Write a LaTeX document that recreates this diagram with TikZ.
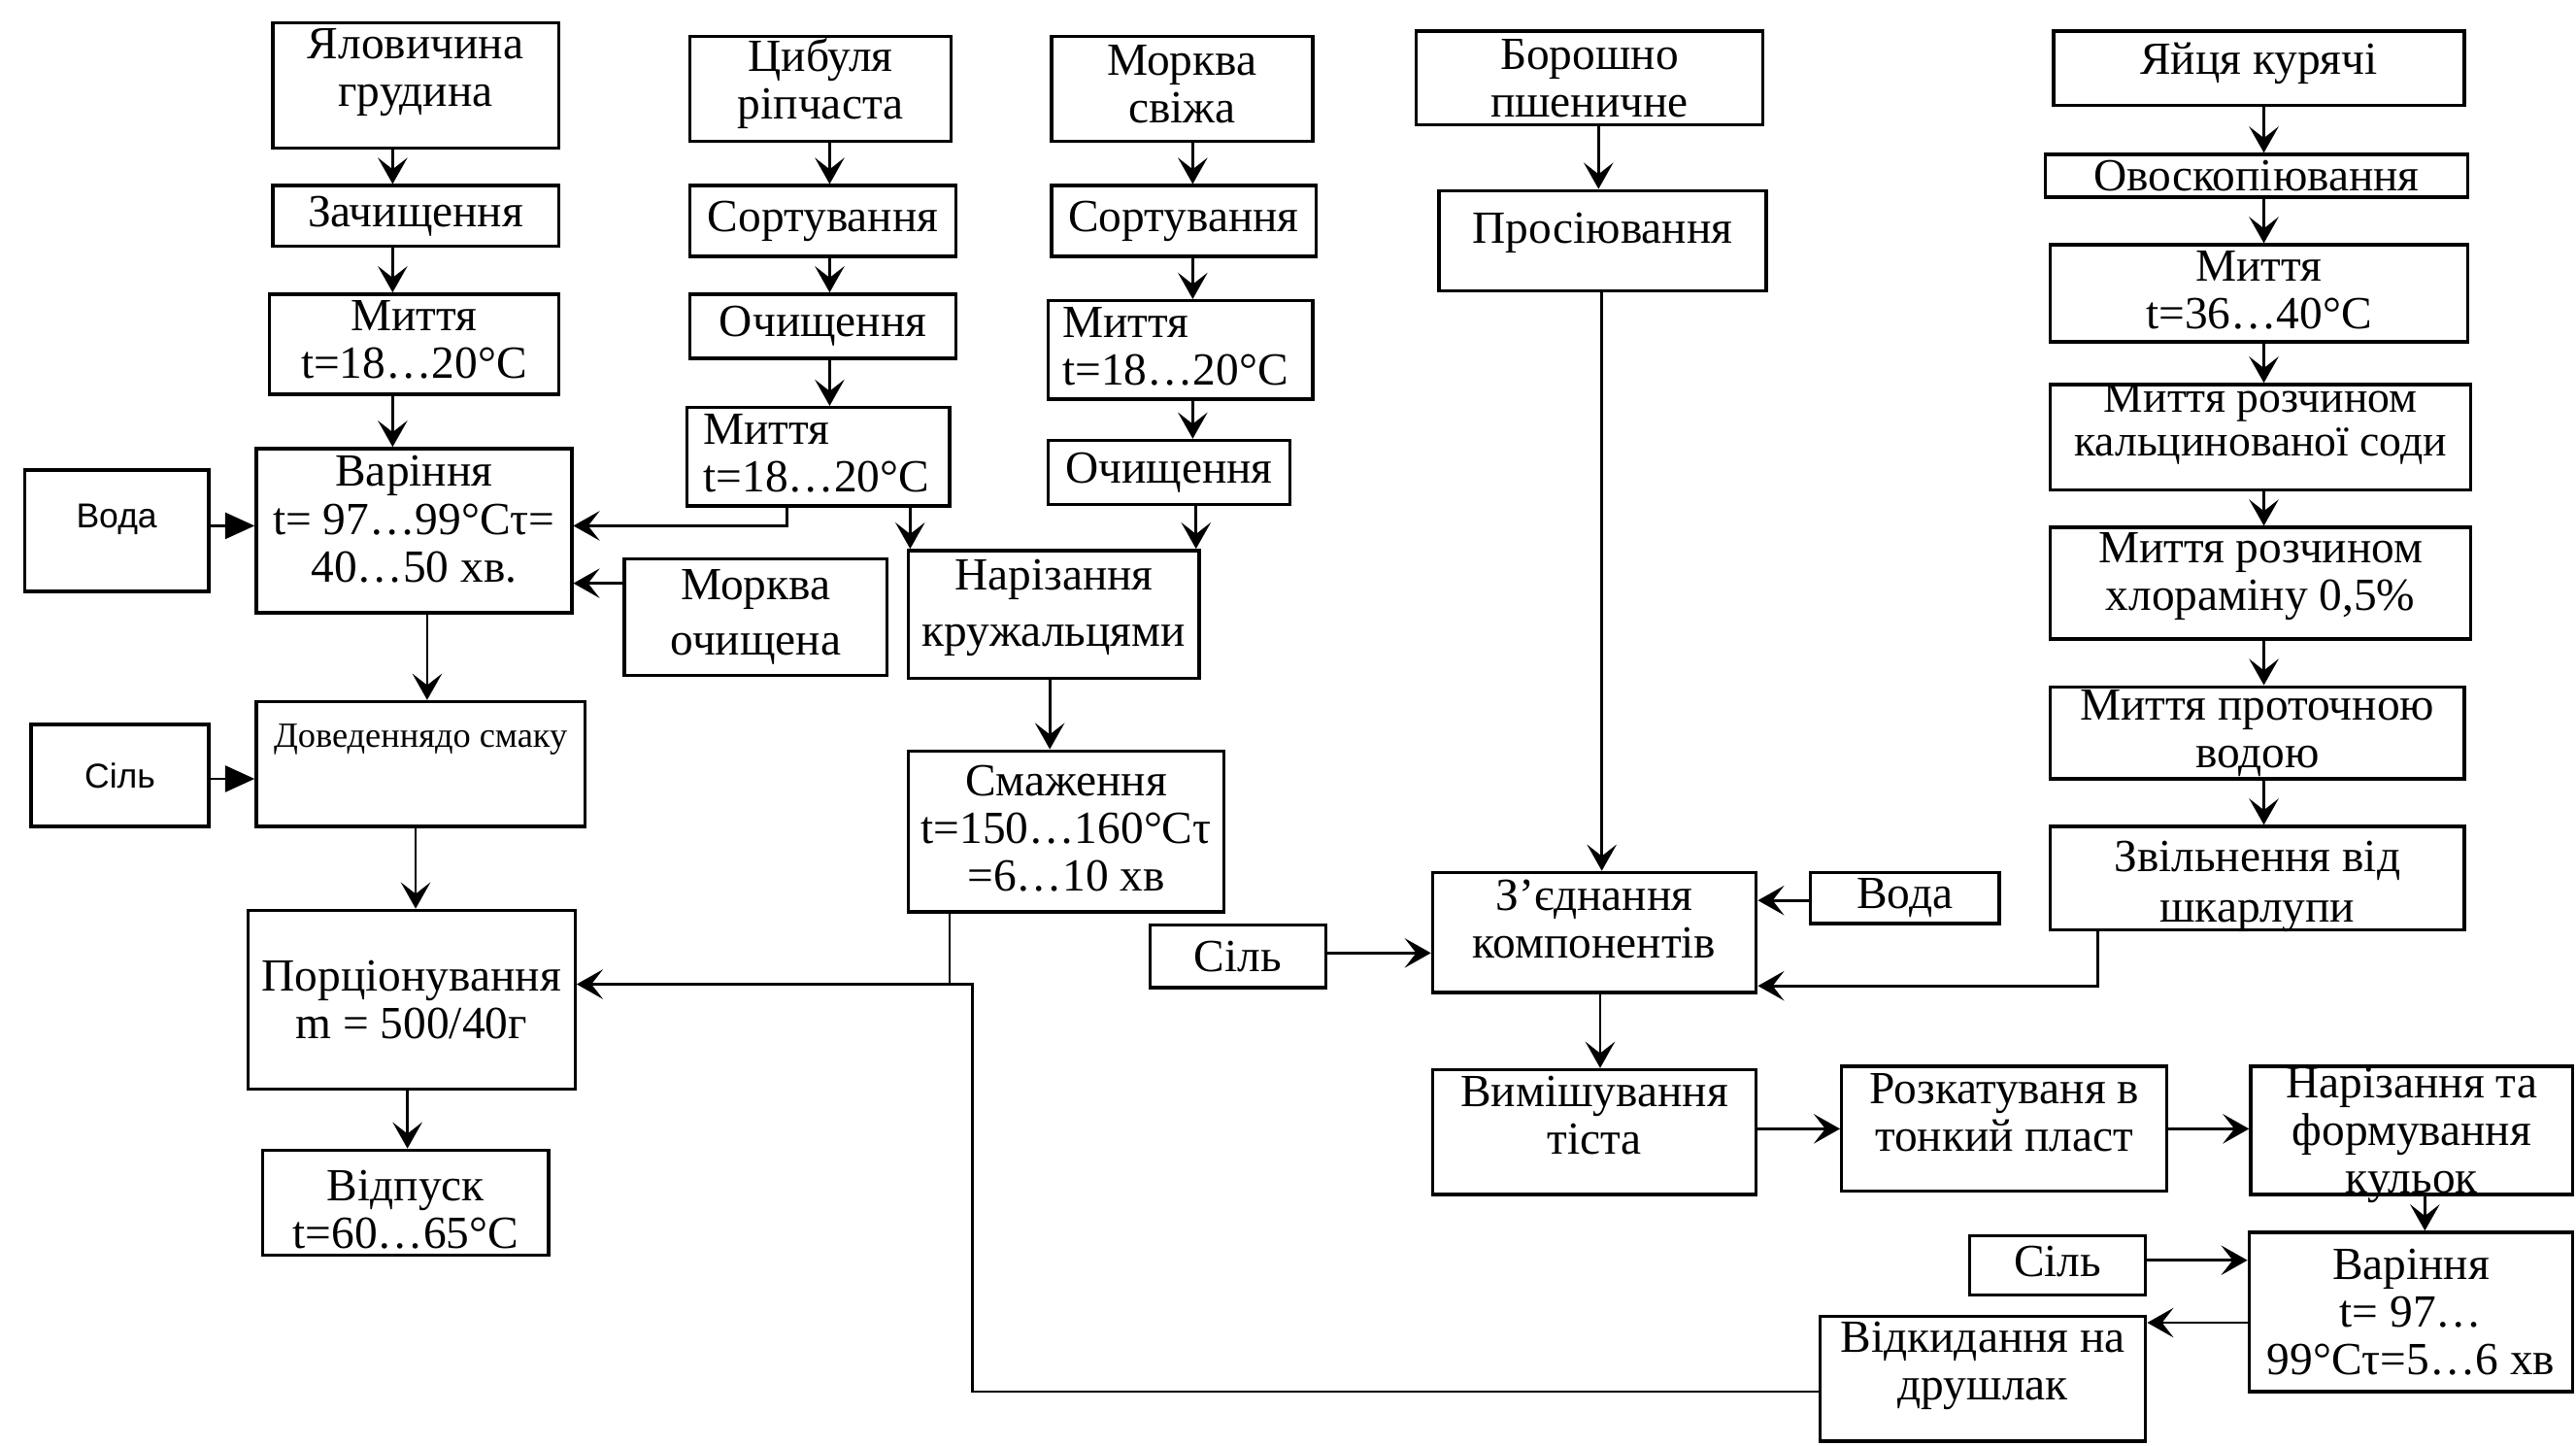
\documentclass[tikz,border=0pt]{standalone}
\usepackage{fontspec}
\setmainfont{Liberation Serif}
\newfontfamily\sansf{Liberation Sans}
\usetikzlibrary{arrows.meta,calc}
\tikzset{
  box/.style={draw, line width=2pt, inner sep=0pt, rectangle},
  txt/.style={align=center, inner sep=0pt, font=\fontsize{28}{29}\selectfont},
  sml/.style={font=\sansf\fontsize{21}{24}\selectfont},
  arr/.style={line width=1.6pt, -{Stealth[length=16pt,width=18pt,inset=7pt]}},
  tri/.style={line width=1.6pt, -{Triangle[length=18pt,width=16pt]}},
  ln/.style={line width=1.6pt},
}
\newcommand\bx[7]{%
  \node[box, minimum width={(#4)-(#2)}, minimum height={(#5)-(#3)}] (#1) at ({((#2)+(#4))/2},{((#3)+(#5))/2}) {};
  \node[txt, #6] (#1t) at (#1.center) {#7};
}
\begin{document}
\begin{tikzpicture}[x=1pt,y=-1pt]
\fill[white] (0,0) rectangle (1568,879.5);
\useasboundingbox (0,0) rectangle (1568,879.5);
% column 1
\bx{yal}{166}{14}{340}{90}{yshift=8pt}{Яловичина\\грудина}
\bx{zach}{166}{113}{340}{150}{}{Зачищення}
\bx{myt1}{164}{179}{340}{240}{yshift=3pt}{Миття\\t=18…20°C}
\bx{var1}{156}{273}{348}{373}{yshift=7pt}{Варіння\\t= 97…99°Cτ=\\40…50 хв.}
\bx{voda1}{15}{286}{127}{360}{sml,yshift=7pt}{Вода}
\bx{morkoch}{380}{340}{540}{411}{font=\fontsize{28}{34}\selectfont}{Морква\\очищена}
\bx{dov}{156}{427}{356}{503}{font=\fontsize{21.5}{24}\selectfont,yshift=15pt}{Доведеннядо смаку}
\bx{sil1}{19}{441}{127}{503}{sml}{Сіль}
\bx{porc}{151}{554}{350}{663}{}{Порціонування\\m = 500/40г}
\bx{vidp}{160}{700}{334}{764}{yshift=-4pt}{Відпуск\\t=60…65°C}
% column 2
\bx{cyb}{420}{22}{579}{86}{yshift=3pt}{Цибуля\\ріпчаста}
\bx{sort1}{420}{113}{582}{156}{}{Сортування}
\bx{och1}{420}{179}{582}{218}{}{Очищення}
\bx{myt2}{418}{248}{578}{308}{align=left,anchor=west,xshift=-70pt,yshift=2pt}{Миття\\t=18…20°C}
% column 3
\bx{mors}{640}{22}{799}{86}{yshift=3pt}{Морква\\свіжа}
\bx{sort2}{640}{113}{801}{156}{}{Сортування}
\bx{myt3}{638}{183}{799}{243}{align=left,anchor=west,xshift=-72pt,yshift=2pt}{Миття\\t=18…20°C}
\bx{och2}{638}{268}{785}{307}{}{Очищення}
\bx{nar}{553}{335}{730}{413}{font=\fontsize{28}{34}\selectfont,yshift=4pt}{Нарізання\\кружальцями}
\bx{smaz}{553}{457}{745}{555}{yshift=2pt}{Смаження\\t=150…160°Cτ\\=6…10 хв}
% column 4
\bx{bor}{862}{19}{1073}{76}{}{Борошно\\пшеничне}
\bx{pros}{876}{116}{1075}{177}{yshift=5pt}{Просіювання}
\bx{zed}{872}{531}{1069}{604}{yshift=8pt}{З’єднання\\компонентів}
\bx{voda2}{1102}{531}{1217}{562}{}{Вода}
\bx{sil2}{700}{563}{807}{601}{}{Сіль}
\bx{vym}{872}{651}{1069}{727}{yshift=10pt}{Вимішування\\тіста}
\bx{rozk}{1121}{649}{1319}{725}{yshift=10pt}{Розкатуваня в\\тонкий пласт}
\bx{narf}{1370}{649}{1566}{727}{yshift=-3pt}{Нарізання та\\формування\\кульок}
\bx{sil3}{1199}{752}{1306}{788}{yshift=2pt}{Сіль}
\bx{var2}{1369}{750}{1566}{847}{}{Варіння\\t= 97…\\99°Cτ=5…6 хв}
\bx{vidk}{1108}{801}{1306}{877}{yshift=8pt}{Відкидання на\\друшлак}
% eggs
\bx{yay}{1250}{19}{1500}{64}{yshift=3pt}{Яйця курячі}
\bx{ovo}{1245}{94}{1502}{120}{}{Овоскопіювання}
\bx{myt4}{1248}{149}{1502}{208}{yshift=2pt}{Миття\\t=36…40°C}
\bx{sod}{1248}{234}{1504}{298}{font=\fontsize{27}{27}\selectfont,yshift=8pt}{Миття розчином\\кальцинованої соди}
\bx{chl}{1248}{321}{1504}{389}{yshift=4pt}{Миття розчином\\хлораміну 0,5\%}
\bx{prot}{1248}{418}{1500}{474}{}{Миття проточною\\водою}
\bx{zvil}{1248}{503}{1500}{566}{font=\fontsize{28}{31}\selectfont,yshift=-5pt}{Звільнення від\\шкарлупи}
% column x coordinates
\coordinate (c1) at (239,0);
\coordinate (c2) at (505,0);
\coordinate (c3) at (726,0);
\coordinate (c5) at (1378,0);
% connectors column 1
\draw[arr] (yal.south -| c1) -- (zach.north -| c1);
\draw[arr] (zach.south -| c1) -- (myt1.north -| c1);
\draw[arr] (myt1.south -| c1) -- (var1.north -| c1);
\draw[tri] (voda1.east |- 0,320) -- (var1.west |- 0,320);
\draw[arr] (myt2.south -| 479,0) |- (var1.east |- 0,320);
\draw[arr] (morkoch.west |- 0,355) -- (var1.east |- 0,355);
\draw[arr] (var1.south -| 260,0) -- (dov.north -| 260,0);
\draw[tri] (sil1.east |- 0,474) -- (dov.west |- 0,474);
\draw[arr] (dov.south -| 253,0) -- (porc.north -| 253,0);
\draw[arr] (porc.south -| 248,0) -- (vidp.north -| 248,0);
\draw[ln] (smaz.south -| 578,0) -- (578,599);
\draw[arr] (vidk.west |- 0,847) -| (592,599) -- (porc.east |- 0,599);
% column 2
\draw[arr] (cyb.south -| c2) -- (sort1.north -| c2);
\draw[arr] (sort1.south -| c2) -- (och1.north -| c2);
\draw[arr] (och1.south -| c2) -- (myt2.north -| c2);
\draw[arr] (myt2.south -| 554,0) -- (nar.north -| 554,0);
% column 3
\draw[arr] (mors.south -| c3) -- (sort2.north -| c3);
\draw[arr] (sort2.south -| c3) -- (myt3.north -| c3);
\draw[arr] (myt3.south -| c3) -- (och2.north -| c3);
\draw[arr] (och2.south -| 728,0) -- (nar.north -| 728,0);
\draw[arr] (nar.south -| 639,0) -- (smaz.north -| 639,0);
% column 4
\draw[arr] (bor.south -| 973,0) -- (pros.north -| 973,0);
\draw[arr] (pros.south -| 975,0) -- (zed.north -| 975,0);
\draw[arr] (voda2.west |- 0,548) -- (zed.east |- 0,548);
\draw[arr] (sil2.east |- 0,580) -- (zed.west |- 0,580);
\draw[arr] (zvil.south -| 1277,0) |- (zed.east |- 0,600);
\draw[arr] (zed.south -| 974,0) -- (vym.north -| 974,0);
\draw[arr] (vym.east |- 0,687) -- (rozk.west |- 0,687);
\draw[arr] (rozk.east |- 0,687) -- (narf.west |- 0,687);
\draw[arr] (narf.south -| 1476,0) -- (var2.north -| 1476,0);
\draw[arr] (sil3.east |- 0,767) -- (var2.west |- 0,767);
\draw[arr] (var2.west |- 0,805) -- (vidk.east |- 0,805);
% eggs
\draw[arr] (yay.south -| c5) -- (ovo.north -| c5);
\draw[arr] (ovo.south -| c5) -- (myt4.north -| c5);
\draw[arr] (myt4.south -| c5) -- (sod.north -| c5);
\draw[arr] (sod.south -| c5) -- (chl.north -| c5);
\draw[arr] (chl.south -| c5) -- (prot.north -| c5);
\draw[arr] (prot.south -| c5) -- (zvil.north -| c5);
\end{tikzpicture}
\end{document}
